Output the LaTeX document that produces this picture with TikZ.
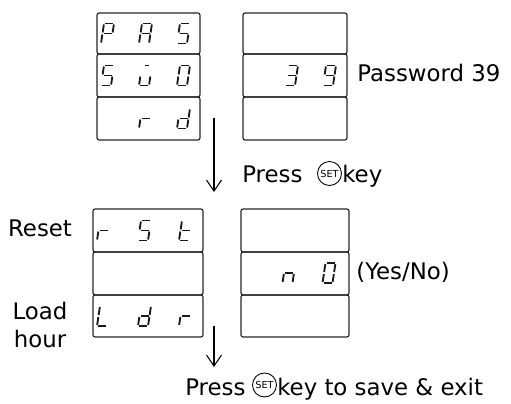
\documentclass[tikz,border=0pt]{standalone}
\usepackage{fontspec}
\setmainfont{DejaVu Sans}
\usetikzlibrary{positioning,arrows.meta}

\tikzset{
  dispbox/.style={draw=black!85, line width=0.65pt, rounded corners=1.2pt},
  segline/.style={draw=black!90, line width=1.05pt},
  lbl/.style={font=\fontsize{13}{16}\selectfont, inner sep=0pt},
  setkey/.style={draw, circle, line width=0.5pt, minimum size=0.48cm, inner sep=0pt, font=\fontsize{5.5}{6}\selectfont},
  flow/.style={line width=0.6pt, -{Straight Barb[length=0.22cm, width=0.3cm]}}
}

% one seven segment character: x, y, list of lit segments
\newcommand{\segchar}[3]{%
  \begin{scope}[shift={(#1,#2)}, xslant=0.15]
    \foreach \s in {#3} {
      \if\s a\draw[segline] (-4,-10) -- (4,-10);\fi
      \if\s b\draw[segline] (5,-9) -- (5,-1);\fi
      \if\s c\draw[segline] (5,1) -- (5,9);\fi
      \if\s d\draw[segline] (-4,10) -- (4,10);\fi
      \if\s e\draw[segline] (-5,1) -- (-5,9);\fi
      \if\s f\draw[segline] (-5,-9) -- (-5,-1);\fi
      \if\s g\draw[segline] (-4,0) -- (4,0);\fi
      \if\s w\draw[segline] (-2.2,-10) -- (2.2,-10);\fi
    }
  \end{scope}}

\begin{document}
\begin{tikzpicture}[x=0.02cm, y=-0.02cm]

    \useasboundingbox (0,0) rectangle (511,404);

    % Password screens
    \draw[dispbox] (97,13) rectangle (200,54);
    \draw[dispbox] (97,54) rectangle (200,97);
    \draw[dispbox] (97,97) rectangle (200,140);
    \draw[dispbox] (243,13) rectangle (347,54);
    \draw[dispbox] (243,54) rectangle (347,97);
    \draw[dispbox] (243,97) rectangle (347,140);

    % row PAS
    \segchar{107.5}{33.5}{a,b,e,f,g}
    \segchar{145.5}{33.5}{a,b,c,e,f,g}
    \segchar{183.5}{33.5}{a,f,g,c,d}

    % row SWO
    \segchar{107.5}{75.5}{a,f,g,c,d}
    \segchar{145.5}{75.5}{w,c,d,e}
    \segchar{183.5}{75.5}{a,b,c,d,e,f}

    % row rd
    \segchar{145.5}{118.5}{e,g}
    \segchar{183.5}{118.5}{b,c,d,e,g}

    % value 39
    \segchar{291.5}{75.5}{a,b,g,c,d}
    \segchar{329.5}{75.5}{a,b,c,d,f,g}

    \node (pwd) [lbl, anchor=base west] at (357,82) {Password 39};

    \coordinate (arrowAtop) at (214,118);
    \coordinate (arrowAtip) at (214,192);
    \draw[flow] (arrowAtop) -- (arrowAtip);

    \node (pressA) [lbl, anchor=base west] at (242,183) {Press};
    \node (setA) [setkey] at (329.5,173.5) {SET};
    \node (keyA) [lbl, anchor=base west] at (setA.east |- pressA.base) {key};

    % Reset screens
    \draw[dispbox] (93,209) rectangle (203,252);
    \draw[dispbox] (93,252) rectangle (203,295);
    \draw[dispbox] (93,295) rectangle (203,337);
    \draw[dispbox] (241,209) rectangle (349,252);
    \draw[dispbox] (241,252) rectangle (349,295);
    \draw[dispbox] (241,295) rectangle (349,337);

    % row rSt
    \segchar{103.5}{230.5}{e,g}
    \segchar{144.5}{230.5}{a,f,g,c,d}
    \segchar{185.5}{230.5}{f,e,g,d}

    % row Ldr
    \segchar{103.5}{316}{f,e,d}
    \segchar{144.5}{316}{b,c,d,e,g}
    \segchar{185.5}{316}{e,g}

    % value no
    \segchar{289}{273}{e,g,c}
    \segchar{329}{273}{a,b,c,d,e,f}

    \node (reset) [lbl, anchor=base] at (40,237) {Reset};
    \node (load) [lbl, align=center, anchor=north] at (40,302) {Load\\hour};
    \node (yesno) [lbl, anchor=base west] at (356,280) {(Yes/No)};

    \coordinate (arrowBtop) at (214,326);
    \coordinate (arrowBtip) at (214,367);
    \draw[flow] (arrowBtop) -- (arrowBtip);

    \node (pressB) [lbl, anchor=base west] at (185,396) {Press};
    \node (setB) [setkey] at (264.5,385) {SET};
    \node (keyB) [lbl, anchor=base west] at (setB.east |- pressB.base) {key to save \& exit};

\end{tikzpicture}
\end{document}
